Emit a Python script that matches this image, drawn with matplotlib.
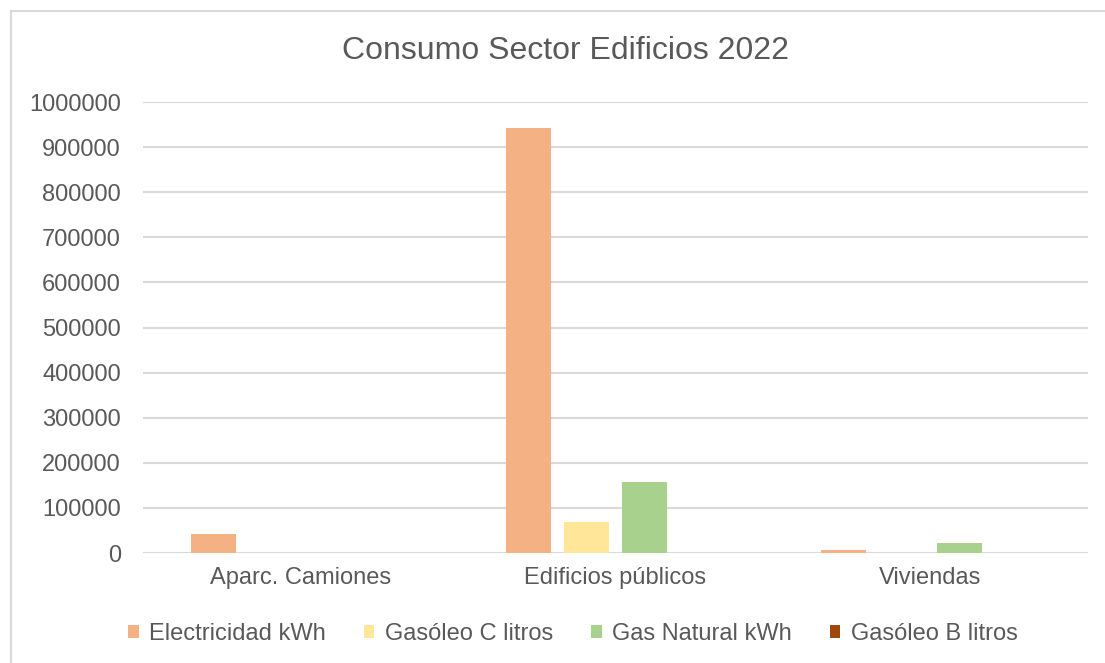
import matplotlib.pyplot as plt
from matplotlib.lines import Line2D
from matplotlib.patches import Patch
import numpy as np

plt.rcParams['font.family'] = ['Liberation Sans', 'DejaVu Sans']

categorias = ["Aparc. Camiones", "Edificios públicos", "Viviendas"]
series = ["Electricidad kWh", "Gasóleo C litros", "Gas Natural kWh", "Gasóleo B litros"]
electricidad = [42000, 942000, 6600]
gasoleo_c = [0, 69000, 0]
gas_natural = [0, 157500, 22000]
gasoleo_b = [0, 0, 0]
yticks = np.arange(0, 1000001, 100000)

colores = ["#F4B183", "#FFE699", "#A9D18E", "#9E480E"]
gris = "#595959"

W, H = 1105, 663
fig = plt.figure(figsize=(W / 100, H / 100), dpi=100)
ax = fig.add_axes([143 / W, 1 - 553 / H, (1088 - 143) / W, (553 - 102) / H])

x = np.arange(len(categorias))
paso = 58 / 315
ancho = 45 / 315
valores = [electricidad, gasoleo_c, gas_natural, gasoleo_b]
for i, (vals, col) in enumerate(zip(valores, colores)):
    ax.bar(x + (i - 1.5) * paso, vals, ancho, color=col, zorder=3)

ax.set_xlim(-0.5, 2.5)
ax.set_ylim(0, 1000000)
ax.set_yticks(yticks)
ax.set_yticklabels([str(v) for v in yticks])
ax.set_xticks(x)
ax.set_xticklabels(categorias)
ax.tick_params(axis='both', length=0, labelsize=17, labelcolor=gris)
ax.tick_params(axis='y', pad=16)
ax.tick_params(axis='x', pad=10)
ax.grid(axis='y', color="#D9D9D9", linewidth=1.5, zorder=0)
for s in ax.spines.values():
    s.set_visible(False)

# titulo y leyenda centrados en el area del grafico
fig.text(566 / W, 1 - 51 / H, "Consumo Sector Edificios 2022", ha='center', va='center',
         fontsize=23, color=gris)
handles = [Patch(facecolor=c, edgecolor='none') for c in colores]
fig.legend(handles, series, loc='center', bbox_to_anchor=(573 / W, 1 - 634 / H), ncol=4,
           frameon=False, fontsize=17, labelcolor=gris, handlelength=0.45, handleheight=0.45,
           handletextpad=0.45, columnspacing=1.6)

# borde del area del grafico
fig.add_artist(Line2D([11 / W, 11 / W], [0, 1 - 11 / H], color="#D9D9D9", linewidth=1.5))
fig.add_artist(Line2D([11 / W, 1], [1 - 11 / H, 1 - 11 / H], color="#D9D9D9", linewidth=1.5))

fig.savefig("out.png", dpi=100)
